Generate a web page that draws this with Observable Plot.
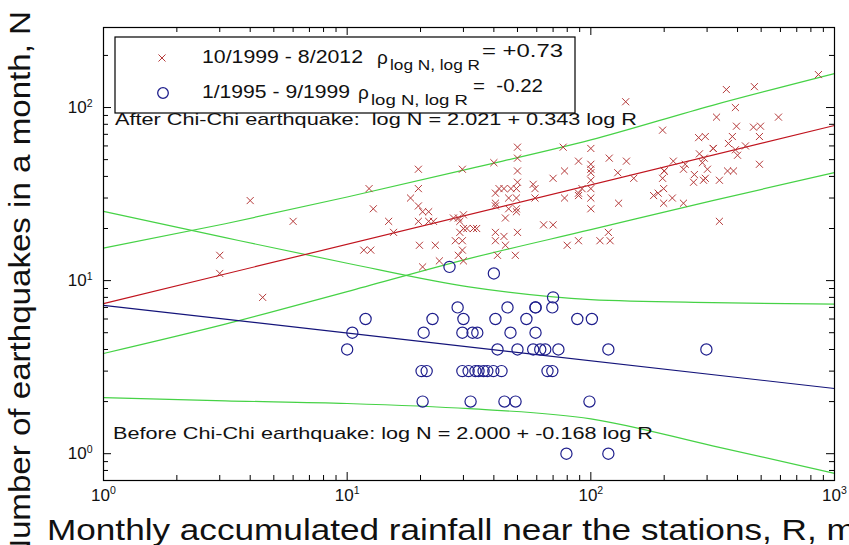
<!DOCTYPE html>
<html><head><meta charset="utf-8">
<script src="https://cdn.jsdelivr.net/npm/d3@7"></script>
<script src="https://cdn.jsdelivr.net/npm/@observablehq/plot@0.6"></script>
<style>
html,body{margin:0;padding:0;background:#fff;}
#chart{position:relative;width:849px;height:545px;overflow:hidden;}
</style></head><body><div id="chart"></div>
<script>
// ---- data ----
const afterR = [3,3,4,4.5,6,
 11.7,12.5,12.3,12.8,14.8,15.5,
 19.6,19.6,18.2,19.6,20.4,21.6,19.6,21.6,22.6,19.8,23,20.4,23.9,
 27.8,29.7,29.7,28.6,30,29.7,27.3,28.6,30,30,33,29,31,34,29,
 40,40.6,40.6,40.6,40.6,40.6,41.4,
 46,46,44.6,44,44.6,42,44,47,
 50,50,50,50,49.5,49.5,49.5,49.5,50,49,
 58,59,59,64,70,70,78,77,78,80,89,89,
 100,100,100,100,100,100,100,100,
 92,89,89,109,120,118,119,129,130,140,139,150,
 181,189,199,199,216,240,197,200,200,197,218,240,244,
 264,290,266,295,279,292,287,277,295,301,318,318,328,337,337,
 360,364,385,367,381,392,396,392,400,431,469,465,497,492,492,589,859];
const afterN = [14,11,29,8,22,
 15,15,34,26,22,19,
 44,34,30,27,25,25,22,22,22,16,16,12,13,
 17,17,15,14,13,44,23,23,24,20,20,22,20,20,19,
 48,32,28,27,19,17,14,
 30,26,23,18,16,34,34,34,
 59,51,43,37,34,30,26,25,19,14,
 36,34,30,21,21,39,43,59,30,16,17,49,
 58,47,44,42,38,34,30,26,
 34,32,31,17,17,19,51,42,28,49,108,39,
 31,32,34,28,30,28,74,43,43,39,49,44,47,
 37,38,41,39,54,51,48,67,68,44,58,58,88,38,22,
 127,43,43,62,68,100,78,57,53,60,132,77,78,68,47,88,155];

const beforeR = [26.3,40,70,
 28.4,45.5,59.3,59.3,69.5,
 11.9,22.4,30,40.6,54.4,88,101,
 10.5,20.6,29.7,32.7,34.2,46.8,59.3,
 10.0,41.4,50,58,62,65,73.6,118,298,
 20.2,21.2,29.7,31.5,33.6,34.6,36.3,37.6,39.8,43,66.4,69.5,
 20.4,32.1,44.2,49.1,98.7,
 79.4,118];
const beforeN = [12,11,8,
 7,7,7,7,7,
 6,6,6,6,6,6,6,
 5,5,5,5,5,5,5,
 4,4,4,4,4,4,4,4,4,
 3,3,3,3,3,3,3,3,3,3,3,3,
 2,2,2,2,2,
 1,1];

const fitR = [1, 1000];
const afterFitN = [7.36, 78.7];
const beforeFitN = [7.2, 2.38];

const bandR = [1, 3.16, 10, 31.6, 100, 316, 1000];
const afterUpperN  = [15.4, 21.3, 30.4, 44.2, 65.0, 103, 157];
const afterLowerN  = [3.79, 5.60, 8.64, 13.4, 19.7, 29.0, 42.1];
const beforeUpperN = [25.1, 17.7, 12.6, 9.2, 7.77, 7.46, 7.31];
const beforeLowerN = [2.11, 2.02, 1.95, 1.82, 1.59, 1.11, 0.77];

const xDomain = [1, 1000];
const yDomain = [0.7, 290];
const xLabelTicks = [1, 10, 100, 1000];
const yLabelTicks = [1, 10, 100];
const xMajorTicks = [10, 100];
const xMinorTicks = [2,3,4,5,6,7,8,9,20,30,40,50,60,70,80,90,200,300,400,500,600,700,800,900];
const yMajorTicks = [1, 10, 100];
const yMinorTicks = [0.8,0.9,2,3,4,5,6,7,8,9,20,30,40,50,60,70,80,90,200];

const legendLabels = ["10/1999 - 8/2012", "1/1995 - 9/1999"];
const legendRho = ["= +0.73", "=  -0.22"];
const afterText = "After Chi-Chi earthquake:  log N = 2.021 + 0.343 log R";
const beforeText = "Before Chi-Chi earthquake: log N = 2.000 + -0.168 log R";
const xTitle = "Monthly accumulated rainfall near the stations, R, mm";
const yTitle = "Number of earthquakes in a month, N";

// ---- build tables ----
const after = afterR.map((r,i)=>({R:r, N:afterN[i]}));
const before = beforeR.map((r,i)=>({R:r, N:beforeN[i]}));
const fitA = fitR.map((r,i)=>({R:r, N:afterFitN[i]}));
const fitB = fitR.map((r,i)=>({R:r, N:beforeFitN[i]}));
const bands = [afterUpperN, afterLowerN, beforeUpperN, beforeLowerN]
  .map((arr,k)=>bandR.map((r,i)=>({R:r, N:arr[i], k})));

const W = 849, H = 545;
const mTop = 27, mRight = 15, mBottom = 65, mLeft = 103;
const innerW = W - mLeft - mRight, innerH = H - mTop - mBottom;
const minor = 5, major = 8;

const RED = "#b53a3a", REDLINE = "#c0141e", BLUE = "#1e1e8c", BLUELINE = "#14147a", GREEN = "#46d246";

const plot = Plot.plot({
  width: W, height: H,
  marginTop: mTop, marginRight: mRight, marginBottom: mBottom, marginLeft: mLeft,
  style: {fontFamily: "'Liberation Sans', Arial, sans-serif", background: "#fff", color: "#111"},
  x: {type: "log", domain: xDomain},
  y: {type: "log", domain: yDomain},
  marks: [
    Plot.ruleX(xMinorTicks, {stroke: "#000", insetTop: innerH - minor}),
    Plot.ruleX(xMajorTicks, {stroke: "#000", insetTop: innerH - major}),
    Plot.ruleX(xMinorTicks, {stroke: "#000", insetBottom: innerH - minor}),
    Plot.ruleX(xMajorTicks, {stroke: "#000", insetBottom: innerH - major}),
    Plot.ruleY(yMinorTicks, {stroke: "#000", insetRight: innerW - minor}),
    Plot.ruleY(yMajorTicks, {stroke: "#000", insetRight: innerW - major}),
    Plot.ruleY(yMinorTicks, {stroke: "#000", insetLeft: innerW - minor}),
    Plot.ruleY(yMajorTicks, {stroke: "#000", insetLeft: innerW - major}),
    ...bands.map(b => Plot.line(b, {x: "R", y: "N", stroke: GREEN, strokeWidth: 1.2, curve: "monotone-x"})),
    Plot.line(fitA, {x: "R", y: "N", stroke: REDLINE, strokeWidth: 1.2}),
    Plot.line(fitB, {x: "R", y: "N", stroke: BLUELINE, strokeWidth: 1.2}),
    Plot.dot(after, {x: "R", y: "N", symbol: "times", r: 3.3, stroke: RED, strokeWidth: 1}),
    Plot.dot(before, {x: "R", y: "N", r: 5.6, stroke: BLUE, strokeWidth: 1.2, fill: "none"}),
    Plot.frame({stroke: "#000", strokeWidth: 1.2}),
    Plot.axisX({ticks: xLabelTicks, tickSize: 0, tickPadding: 8, fontSize: 17, label: null,
      tickFormat: d => "10^" + Math.round(Math.log10(d))}),
    Plot.axisY({ticks: yLabelTicks, tickSize: 0, tickPadding: 11, fontSize: 17, label: null,
      tickFormat: d => "10^" + Math.round(Math.log10(d))})
  ]
});
document.getElementById("chart").appendChild(plot);

const svg = d3.select(plot);
svg.selectAll('g[aria-label="x-axis tick label"] text, g[aria-label="y-axis tick label"] text').each(function(){
  const t = d3.select(this);
  const s = t.text();
  if (s.indexOf("^") < 0) return;
  const [base, exp] = s.split("^");
  t.text(base);
  t.append("tspan").attr("dy", "-0.6em").attr("font-size", "0.62em").text(exp);
});

const font = "'Liberation Sans', Arial, sans-serif";
const g = svg.append("g").attr("font-family", font).attr("fill", "#111").attr("text-anchor", "start");

g.append("rect").attr("x", 115).attr("y", 37).attr("width", 460).attr("height", 76)
  .attr("fill", "#fff").attr("stroke", "#000").attr("stroke-width", 1.2);
g.append("path").attr("d", d3.symbol(d3.symbolTimes, 34)()).attr("transform", "translate(162,58)")
  .attr("fill", "none").attr("stroke", RED).attr("stroke-width", 1);
g.append("circle").attr("cx", 163).attr("cy", 93).attr("r", 5.3).attr("fill", "none")
  .attr("stroke", BLUE).attr("stroke-width", 1.3);
const rows = [
  {y: 63, lab: legendLabels[0], labLen: 161, rhoX: 377, subX: 390, subLen: 90, subY: 70, eqX: 482, eqY: 57, eqLen: 81, eq: legendRho[0]},
  {y: 98, lab: legendLabels[1], labLen: 148, rhoX: 358, subX: 371, subLen: 97, subY: 105, eqX: 473, eqY: 92, eqLen: 70, eq: legendRho[1]}
];
rows.forEach(r => {
  g.append("text").attr("x", 202).attr("y", r.y).attr("font-size", 19)
    .attr("textLength", r.labLen).attr("lengthAdjust", "spacingAndGlyphs").text(r.lab);
  g.append("text").attr("x", r.rhoX).attr("y", r.y + 1).attr("font-size", 19).text("ρ");
  g.append("text").attr("x", r.subX).attr("y", r.subY).attr("font-size", 14)
    .attr("textLength", r.subLen).attr("lengthAdjust", "spacingAndGlyphs").text("log N, log R");
  g.append("text").attr("x", r.eqX).attr("y", r.eqY).attr("font-size", 19)
    .style("white-space", "pre")
    .attr("textLength", r.eqLen).attr("lengthAdjust", "spacingAndGlyphs").text(r.eq);
});

g.append("text").attr("x", 115).attr("y", 125).attr("font-size", 17).style("white-space", "pre")
  .attr("textLength", 522).attr("lengthAdjust", "spacingAndGlyphs").text(afterText);
g.append("text").attr("x", 113).attr("y", 439).attr("font-size", 17)
  .attr("textLength", 540).attr("lengthAdjust", "spacingAndGlyphs").text(beforeText);

svg.append("text").attr("x", 47).attr("y", 540).attr("text-anchor", "start").attr("font-family", font)
  .attr("font-size", 29).attr("fill", "#111")
  .attr("textLength", 838).attr("lengthAdjust", "spacingAndGlyphs").text(xTitle);
svg.append("text").attr("transform", "translate(30,11) rotate(-90)").attr("text-anchor", "end")
  .attr("font-family", font).attr("font-size", 29).attr("fill", "#111")
  .attr("textLength", 552).attr("lengthAdjust", "spacingAndGlyphs").text(yTitle);
</script></body></html>
